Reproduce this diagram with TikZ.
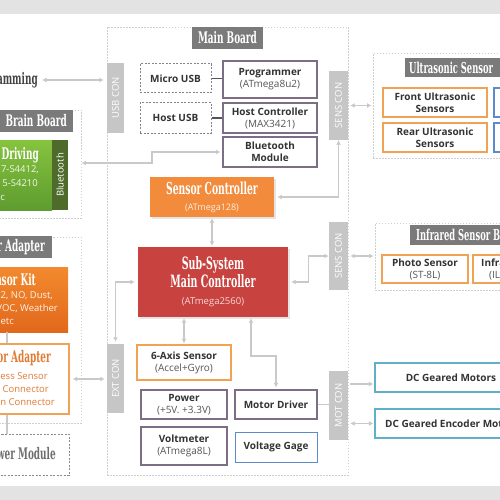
\documentclass[tikz,border=0pt]{standalone}
\usepackage{fontspec}
\setmainfont{Open Sans}
\newfontfamily\ttl{DejaVu Serif Condensed Bold}[FakeStretch=0.62]
\usetikzlibrary{arrows.meta,shadows}
\definecolor{band}{HTML}{E3E3E3}
\definecolor{lblgray}{HTML}{7A7A7A}
\definecolor{congray}{HTML}{C6C6C6}
\definecolor{dashgray}{HTML}{CFCFCF}
\definecolor{purp}{HTML}{7D6E86}
\definecolor{orbd}{HTML}{F0A355}
\definecolor{blbd}{HTML}{5B8BCB}
\definecolor{tlbd}{HTML}{5FB0C8}
\definecolor{orfill}{HTML}{F28B3B}
\definecolor{redfill}{HTML}{C8423F}
\definecolor{txt}{HTML}{333333}
\definecolor{subtxt}{HTML}{555555}
\definecolor{argray}{HTML}{C9C9C9}
\definecolor{grA}{HTML}{86C33E}
\definecolor{grB}{HTML}{5E9C30}
\definecolor{grD}{HTML}{4E6B2B}
\definecolor{kitA}{HTML}{F28A2E}
\definecolor{kitB}{HTML}{E2681C}
\definecolor{adtxt}{HTML}{E27B32}
\definecolor{darkt}{HTML}{444444}
\definecolor{pmgray}{HTML}{8A8A8A}
\definecolor{dashpurp}{HTML}{8A7F8F}
\newcommand\Bx[7]{\node[#1, minimum width={#5-#3}, minimum height={#6-#4}] (#2) at ({(#3+#5)/2},{(#4+#6)/2}) {#7};}
\newcommand\subl[1]{{\mdseries\color{subtxt}#1}}
\tikzset{
 box/.style={draw=purp, line width=1.2pt, fill=white, text=txt, align=center, inner sep=0pt, font=\fontsize{10}{12}\selectfont\bfseries},
 dbox/.style={box, draw=dashpurp, dash pattern=on 2pt off 1.5pt, line width=1pt},
 obox/.style={box, draw=orbd},
 bbox/.style={box, draw=blbd, line width=1pt},
 tbox/.style={box, draw=tlbd},
 con/.style={fill=congray, draw=none, inner sep=0pt},
 contxt/.style={text=white, font=\fontsize{9.5}{10}\selectfont, rotate=90, inner sep=0pt},
 glbl/.style={fill=lblgray, draw=none, inner sep=0pt, text=white, font=\ttl\fontsize{16}{17}\selectfont},
 ttltxt/.style={inner sep=0pt, font=\ttl\fontsize{16}{17}\selectfont},
 smtxt/.style={inner sep=0pt, font=\fontsize{9.5}{11}\selectfont},
 area/.style={draw=dashgray, line width=0.9pt, dash pattern=on 1.5pt off 1.5pt, inner sep=0pt},
 arr/.style={draw=argray, line width=1.4pt, >={Latex[length=4.5pt,width=5pt]}},
 link/.style={draw=subtxt, line width=1.3pt},
 ctl/.style={draw=none, inner sep=0pt, align=center, text=white, drop shadow={opacity=0.2, shadow xshift=1.5pt, shadow yshift=-1.5pt}},
}
\begin{document}
\begin{tikzpicture}[x=1pt,y=-1pt]
\useasboundingbox (0,0) rectangle (500,500);
\clip (0,0) rectangle (500,500);
\fill[white] (0,0) rectangle (500,500);
\fill[band] (0,0) rectangle (500,14);
\fill[band] (0,486) rectangle (500,500);
\coordinate (c7) at (7,0);
% ---------- main board ----------
\Bx{area}{mb}{107}{27}{348}{475}{}
\Bx{glbl}{mbl}{192}{27}{263}{49}{Main Board}
\Bx{con}{usbcon}{107}{63}{124}{133}{}
\node[contxt] at (usbcon) {USB CON};
\Bx{con}{senscon1}{329}{71}{348}{140}{}
\node[contxt] at (senscon1) {SENS CON};
\Bx{con}{senscon2}{329}{222}{348}{290}{}
\node[contxt] at (senscon2) {SENS CON};
\Bx{con}{extcon}{107}{344}{124}{413}{}
\node[contxt] at (extcon) {EXT CON};
\Bx{con}{motcon}{329}{371}{348}{440}{}
\node[contxt] at (motcon) {MOT CON};
\Bx{dbox}{microusb}{140}{64}{211}{93}{Micro USB}
\Bx{box}{prog}{223}{61}{317}{98}{Programmer\\\subl{(ATmega8u2)}}
\Bx{dbox}{hostusb}{140}{103}{211}{133}{Host USB}
\Bx{box}{hostctl}{223}{103}{317}{133}{Host Controller\\\subl{(MAX3421)}}
\Bx{box}{btmod}{223}{137}{317}{167}{Bluetooth\\Module}
\Bx{ctl, fill=orfill, font=\ttl\fontsize{16.5}{17}\selectfont}{sensctl}{150}{177}{274}{217}{Sensor Controller\\[-1pt]{\normalfont\fontsize{9}{11}\selectfont\color{white!85!orfill}(ATmega128)}}
\Bx{ctl, fill=redfill, font=\ttl\fontsize{17}{18}\selectfont}{mainctl}{138}{247}{288}{317}{Sub-System\\Main Controller\\[-1pt]{\normalfont\fontsize{9.5}{11}\selectfont\color{white!80!redfill}(ATmega2560)}}
\Bx{obox}{axis}{137}{345}{231}{380}{6-Axis Sensor\\\subl{(Accel+Gyro)}}
\Bx{box}{power}{141}{390}{227}{419}{Power\\\subl{(+5V. +3.3V)}}
\Bx{box}{voltm}{141}{427}{227}{465}{Voltmeter\\\subl{(ATmega8L)}}
\Bx{box}{motdrv}{235}{390}{317}{419}{Motor Driver}
\Bx{bbox}{vgage}{235}{432}{317}{462}{Voltage Gage}
% ---------- right side ----------
\Bx{area}{usa}{373}{53}{530}{158}{}
\Bx{glbl}{usl}{405}{58}{530}{77}{}
\node[ttltxt, text=white, anchor=west, font=\ttl\fontsize{15}{16}\selectfont] at (409,67.5) {Ultrasonic Sensor};
\Bx{obox}{front}{383}{88}{487}{117}{Front Ultrasonic\\Sensors}
\Bx{obox}{rear}{383}{123}{487}{152}{Rear Ultrasonic\\Sensors}
\Bx{bbox, line width=1.2pt}{usb1}{494}{88}{530}{117}{}
\Bx{bbox, line width=1.2pt}{usb2}{494}{123}{530}{152}{}
\Bx{area}{ira}{375}{223}{530}{290}{}
\Bx{glbl}{irl}{410}{225}{530}{245}{}
\node[ttltxt, text=white, anchor=west, font=\ttl\fontsize{15}{16}\selectfont] at (416,235) {Infrared Sensor Board};
\Bx{obox}{photo}{382}{255}{468}{283}{Photo Sensor\\\subl{(ST-8L)}}
\Bx{obox}{infra}{473}{255}{540}{283}{}
\node[anchor=west, inner sep=0pt, font=\fontsize{10}{12}\selectfont\bfseries, text=txt] at (481,262.5) {Infrared};
\node[anchor=west, inner sep=0pt, font=\fontsize{10}{12}\selectfont, text=subtxt] at (489,276) {(IL};
\Bx{tbox}{dcm}{375}{363}{530}{392}{}
\node[inner sep=0pt, font=\fontsize{10}{12}\selectfont\bfseries, text=txt] at (451,377.5) {DC Geared Motors};
\Bx{tbox}{dcenc}{375}{409}{530}{438}{}
\node[anchor=west, inner sep=0pt, font=\fontsize{10}{12}\selectfont\bfseries, text=txt] at (385,423.5) {DC Geared Encoder Motors};
% ---------- left side ----------
\node[ttltxt, anchor=east, text=darkt] (progt) at (38,80) {Programming};
\Bx{area}{brain}{-10}{110}{81}{218}{}
\Bx{glbl}{brainl}{-10}{110}{73}{132}{}
\node[ttltxt, anchor=east, text=white] at (67,121) {Brain Board};
\Bx{draw=none, top color=grA, bottom color=grB, inner sep=0pt}{green}{-10}{140}{52}{210}{}
\Bx{draw=none, fill=grD, inner sep=0pt}{btstrip}{52}{140}{68}{210}{}
\node[contxt, font=\fontsize{9.5}{10}\selectfont] at (btstrip) {Bluetooth};
\node[ttltxt, anchor=east, text=white] at (39,155) {Driving};
\node[smtxt, anchor=east, text=white!88!grA] at (39,170) {7-S4412,};
\node[smtxt, anchor=east, text=white!88!grA] at (38,183) {5-S4210};
\node[smtxt, anchor=east, text=white!88!grA] at (5,197) {etc};
\Bx{area}{sadap}{-10}{237}{81}{423}{}
\Bx{glbl}{sadapl}{-10}{236}{52}{258}{}
\node[ttltxt, anchor=east, text=white] at (45,247) {Sensor Adapter};
\Bx{draw=none, top color=kitA, bottom color=kitB, inner sep=0pt}{kit}{-10}{267}{68}{332}{}
\node[ttltxt, anchor=east, text=white] at (36,280) {Sensor Kit};
\node[smtxt, anchor=east, text=white!90!kitA] at (53,296) {CO2, NO, Dust,};
\node[smtxt, anchor=east, text=white!90!kitA] at (58,308.5) {VOC, Weather};
\node[smtxt, anchor=east, text=white!90!kitA] at (14,321) {etc};
\Bx{obox, line width=1.4pt}{adapter}{-10}{344}{69}{414}{}
\node[ttltxt, anchor=east, text=adtxt] at (51,358) {Sensor Adapter};
\node[smtxt, anchor=east, text=adtxt] at (48,376) {Wireless Sensor};
\node[smtxt, anchor=east, text=adtxt] at (49,389) {Connector};
\node[smtxt, anchor=east, text=adtxt] at (55,402) {Extension Connector};
\Bx{dbox, draw=pmgray}{pmod}{-10}{434}{69}{475}{}
\node[ttltxt, anchor=east, text=pmgray!80!black] at (56,454) {Power Module};
\draw[argray, line width=1.4pt] (kit.south -| c7) -- (adapter.north -| c7);
\draw[argray, line width=1.4pt] (adapter.south -| c7) -- (pmod.north -| c7);
% ---------- connectors ----------
\draw[link] (microusb.east) -- (microusb.east -| prog.west);
\draw[link] (hostusb.east) -- (hostusb.east -| hostctl.west);
\draw[arr, <->, shorten <=4pt, shorten >=3pt] (progt.east) -- (progt.east -| usbcon.west);
\coordinate (bta) at (152,163);
\draw[arr, <->, shorten >=2pt] (bta -| brain.east) -- (bta) |- (btmod.west);
\draw[arr, <->, shorten <=3pt] (sensctl.east) -| (senscon1.south);
\draw[arr, <->, shorten <=2pt, shorten >=1pt] (senscon1.east) -- (senscon1.east -| usa.west);
\draw[arr, <->, shorten <=1pt, shorten >=1pt] (sensctl.south) -- (sensctl.south |- mainctl.north);
\draw[arr, <->, shorten <=3pt] (mainctl.east) -- ++(20,0) |- (senscon2.west);
\draw[arr, <->, shorten <=2pt, shorten >=1pt] (senscon2.east) -- (senscon2.east -| ira.west);
\draw[arr, <->, shorten <=3pt, shorten >=2pt] (mainctl.west) -| (extcon.north);
\draw[arr, <->, shorten <=3pt, shorten >=2pt] (adapter.east) -- (adapter.east -| extcon.west);
\draw[arr, <->, shorten <=1pt, shorten >=1pt] (axis.north |- mainctl.south) -- (axis.north);
\coordinate (md) at (251,356);
\draw[arr, <->, shorten <=1pt, shorten >=2pt] (md |- mainctl.south) -- (md) -| (motdrv.north);
\draw[arr] (motdrv.east) -- (motdrv.east -| motcon.west);
\coordinate (dcy) at (0,384);
\draw[arr, ->, shorten <=2pt, shorten >=1pt] (motcon.east |- dcy) -- (dcm.west |- dcy);
\draw[arr, <->, shorten <=2pt, shorten >=1pt] (motcon.east |- dcenc.west) -- (dcenc.west);
\end{tikzpicture}
\end{document}
